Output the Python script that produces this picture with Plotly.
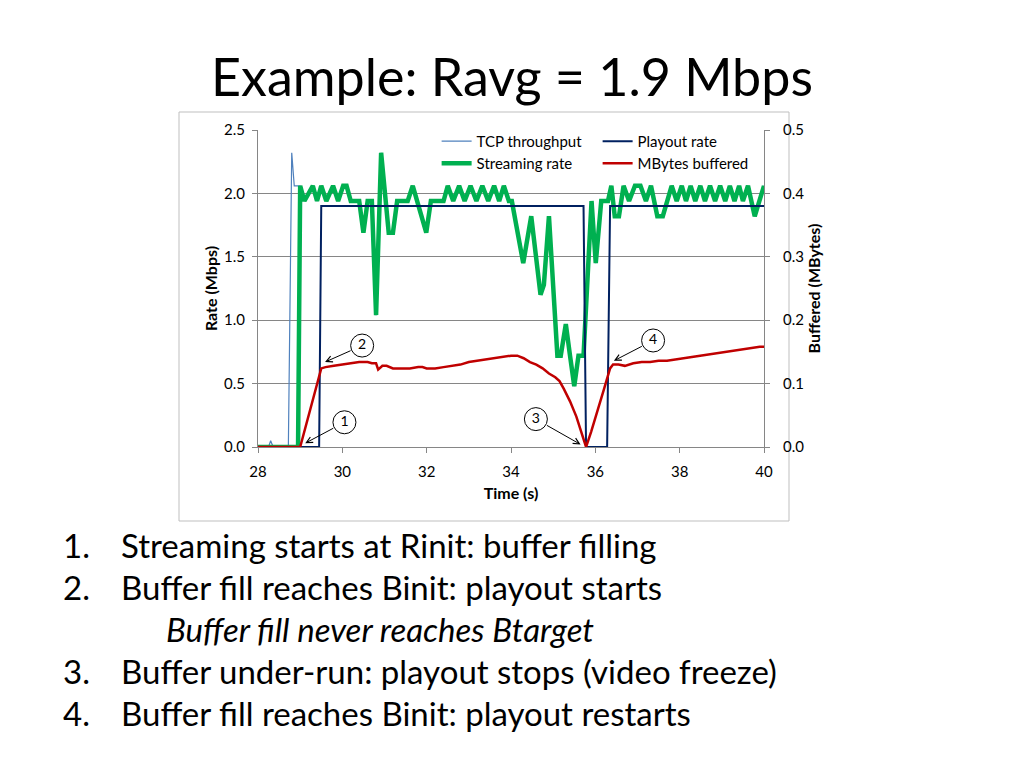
import plotly.graph_objects as go

# ---------------- data ----------------
stream_t = [28.0, 28.95, 29.0, 29.1, 29.3, 29.4, 29.5, 29.62, 29.78, 29.9, 30.02, 30.1, 30.2, 30.4,
            30.5, 30.6, 30.7, 30.8, 30.92, 31.1, 31.2, 31.3, 31.55, 31.67, 31.99, 32.1, 32.4, 32.5,
            32.63, 32.77, 32.9, 33.04, 33.18, 33.32, 33.46, 33.6, 33.72, 33.83, 33.95, 34.02, 34.29,
            34.48, 34.7, 34.78, 34.9, 35.1, 35.18, 35.3, 35.4, 35.5, 35.6, 35.72, 35.91, 36.01, 36.14,
            36.3, 36.38, 36.46, 36.56, 36.67, 36.8, 36.94, 37.07, 37.2, 37.32, 37.47, 37.6, 37.81,
            37.93, 38.05, 38.15, 38.26, 38.37, 38.49, 38.6, 38.72, 38.84, 38.96, 39.08, 39.19, 39.3,
            39.41, 39.5, 39.62, 39.78, 40.0]
stream_v = [0.0, 0.0, 2.06, 1.94, 2.06, 1.94, 2.06, 1.94, 2.06, 1.94, 2.06, 2.06, 1.94, 1.94,
            1.69, 1.94, 1.94, 1.04, 2.32, 1.69, 1.69, 1.94, 1.94, 2.06, 1.69, 1.94, 1.94, 2.06,
            1.94, 2.06, 1.94, 2.06, 1.94, 2.06, 1.94, 2.06, 1.94, 2.06, 1.94, 1.94, 1.45,
            1.82, 1.20, 1.28, 1.82, 0.72, 0.72, 0.97, 0.72, 0.48, 0.72, 0.72, 1.94, 1.45, 1.94,
            1.94, 2.06, 1.82, 1.82, 2.06, 1.94, 2.06, 2.06, 1.94, 2.06, 1.82, 1.82, 2.06,
            1.94, 2.06, 1.94, 2.06, 1.94, 2.06, 1.94, 2.06, 1.94, 2.06, 1.94, 2.06, 1.94,
            2.06, 1.94, 2.06, 1.82, 2.06]

tcp_start_t = [28.0, 28.25, 28.3, 28.36, 28.72, 28.8, 28.86, 28.95]
tcp_start_v = [0.0, 0.0, 0.05, 0.0, 0.0, 2.32, 2.06, 2.06]

playout_t = [28.0, 29.45, 29.5, 35.72, 35.78, 36.28, 36.35, 40.0]
playout_v = [0.0, 0.0, 1.9, 1.9, 0.0, 0.0, 1.9, 1.9]

buf_t = [28.0, 29.0, 29.5, 29.6, 29.8, 30.0, 30.2, 30.4, 30.6, 30.7, 30.8, 30.85, 30.95, 31.05,
         31.2, 31.4, 31.6, 31.8, 31.9, 32.0, 32.2, 32.4, 32.6, 32.8, 33.0, 33.2, 33.4, 33.6,
         33.8, 34.0, 34.15, 34.3, 34.45, 34.6, 34.75, 34.9, 35.05, 35.15, 35.25, 35.4, 35.55,
         35.65, 35.78, 35.9, 36.05, 36.2, 36.35, 36.42, 36.55, 36.7, 36.9, 37.1, 37.3, 37.5,
         37.7, 37.9, 38.1, 38.3, 38.5, 38.7, 38.9, 39.1, 39.3, 39.5, 39.7, 39.8, 39.9, 40.0]
buf_mb = [0.0, 0.0, 0.124, 0.126, 0.128, 0.130, 0.132, 0.134, 0.134, 0.132, 0.132, 0.122, 0.128, 0.128,
          0.124, 0.124, 0.124, 0.126, 0.126, 0.124, 0.124, 0.126, 0.128, 0.130, 0.134, 0.136, 0.138, 0.140,
          0.142, 0.144, 0.144, 0.140, 0.134, 0.130, 0.124, 0.116, 0.110, 0.104, 0.092, 0.072, 0.048,
          0.028, 0.0, 0.024, 0.056, 0.090, 0.124, 0.130, 0.130, 0.128, 0.132, 0.134, 0.134, 0.136,
          0.136, 0.138, 0.140, 0.142, 0.144, 0.146, 0.148, 0.150, 0.152, 0.154, 0.156, 0.158, 0.158, 0.158]

marker_labels = ["1", "2", "3", "4"]
marker_x = [30.05, 30.47, 34.59, 37.37]
marker_y = [0.195, 0.80, 0.22, 0.84]
tip_x = [29.12, 29.59, 35.65, 36.44]
tip_y = [0.03, 0.67, 0.02, 0.68]

x_ticks = [28, 30, 32, 34, 36, 38, 40]

title_text = "Example: Ravg = 1.9 Mbps"
bullets = [
    ("1.", "Streaming starts at Rinit: buffer filling"),
    ("2.", "Buffer fill reaches Binit: playout starts"),
    ("", "<i>Buffer fill never reaches Btarget</i>"),
    ("3.", "Buffer under-run: playout stops (video freeze)"),
    ("4.", "Buffer fill reaches Binit: playout restarts"),
]

FONT = "Lato"

# tcp follows the streaming trace once streaming starts (hidden beneath it)
start_idx = stream_t.index(29.0)
tcp_t = tcp_start_t + stream_t[start_idx:]
tcp_v = tcp_start_v + stream_v[start_idx:]

fig = go.Figure()
fig.add_trace(go.Scatter(x=tcp_t, y=tcp_v, mode="lines", name="TCP throughput",
                         line=dict(color="#4F81BD", width=1.2), legend="legend", legendrank=1))
fig.add_trace(go.Scatter(x=stream_t, y=stream_v, mode="lines", name="Streaming rate",
                         line=dict(color="#00B050", width=4.5), legend="legend2", legendrank=1))
fig.add_trace(go.Scatter(x=playout_t, y=playout_v, mode="lines", name="Playout rate",
                         line=dict(color="#002060", width=2), legend="legend", legendrank=2))
fig.add_trace(go.Scatter(x=buf_t, y=buf_mb, mode="lines", name="MBytes buffered", yaxis="y2",
                         line=dict(color="#C00000", width=2.5), legend="legend2", legendrank=2))
fig.add_trace(go.Scatter(x=marker_x, y=marker_y, mode="markers+text", text=marker_labels,
                         textposition="middle center", showlegend=False, hoverinfo="skip",
                         textfont=dict(family=FONT, size=14, color="black"),
                         marker=dict(symbol="circle", size=23, color="white",
                                     line=dict(color="black", width=1))))

for mx, my, tx, ty in zip(marker_x, marker_y, tip_x, tip_y):
    fig.add_annotation(x=tx, y=ty, ax=mx, ay=my, xref="x", yref="y", axref="x", ayref="y",
                       text="", showarrow=True, arrowhead=5, arrowsize=1.2, arrowwidth=1,
                       arrowcolor="black", startstandoff=11)

# outer chart border
fig.add_shape(type="rect", xref="paper", yref="paper",
              x0=(179 - 258) / 506, x1=(789 - 258) / 506,
              y0=(447 - 521) / 317, y1=(447 - 112) / 317,
              line=dict(color="#BFBFBF", width=1), fillcolor="rgba(0,0,0,0)", layer="below")

# bullet text
for i, (num, txt) in enumerate(bullets):
    ypix = [545, 587, 629, 671, 713][i]
    yp = (447 - ypix) / 317
    if num:
        fig.add_annotation(x=(61 - 258) / 506, y=yp, xref="paper", yref="paper", text=num,
                           showarrow=False, xanchor="left", yanchor="middle",
                           font=dict(family=FONT, size=33, color="black"))
        xs = 119
    else:
        xs = 164
    fig.add_annotation(x=(xs - 258) / 506, y=yp, xref="paper", yref="paper", text=txt,
                       showarrow=False, xanchor="left", yanchor="middle",
                       font=dict(family=FONT, size=33, color="black"))

axis_font = dict(family=FONT, size=15, color="black")
title_font = dict(family=FONT, size=16, color="black")
legend_common = dict(orientation="h", x=0.353, xanchor="left", yanchor="top",
                     entrywidth=116, itemwidth=30, bgcolor="rgba(0,0,0,0)",
                     font=dict(family=FONT, size=15, color="black"), tracegroupgap=0)
fig.update_layout(
    width=1024, height=768,
    margin=dict(l=258, r=260, t=130, b=321, autoexpand=False),
    paper_bgcolor="white", plot_bgcolor="white",
    title=dict(text=title_text, x=0.5, xanchor="center", y=1 - 78 / 768, yanchor="middle",
               yref="container", font=dict(family=FONT, size=52, color="black")),
    font=dict(family=FONT, color="black"),
    xaxis=dict(range=[28, 40], tickvals=x_ticks, ticks="outside", ticklen=5, tickcolor="#868686",
               showline=True, linecolor="#868686", showgrid=False, zeroline=False,
               tickfont=axis_font, ticklabelstandoff=6, automargin=False,
               title=dict(text="<b>Time (s)</b>", font=title_font, standoff=8)),
    yaxis=dict(range=[0, 2.5], dtick=0.5, tickformat=".1f", ticks="outside", ticklen=5,
               tickcolor="#868686", showline=True, linecolor="#868686", showgrid=True,
               gridcolor="#868686", gridwidth=1, zeroline=False, tickfont=axis_font,
               ticklabelstandoff=4, automargin=False,
               title=dict(text="<b>Rate (Mbps)</b>", font=title_font, standoff=2)),
    yaxis2=dict(range=[0, 0.5], dtick=0.1, tickformat=".1f", overlaying="y", side="right",
                ticks="outside", ticklen=5, tickcolor="#868686", showline=True, linecolor="#868686",
                showgrid=False, zeroline=False, tickfont=axis_font, ticklabelstandoff=10,
                automargin=False,
                title=dict(text="<b>Buffered (MBytes)</b>", font=title_font, standoff=5)),
    legend=dict(y=1.016, **legend_common),
    legend2=dict(y=1.016 - 22 / 317, **legend_common),
    showlegend=True,
)

fig.write_html("out.html", post_script="document.body.style.margin='0';",
               config={"displayModeBar": False})
